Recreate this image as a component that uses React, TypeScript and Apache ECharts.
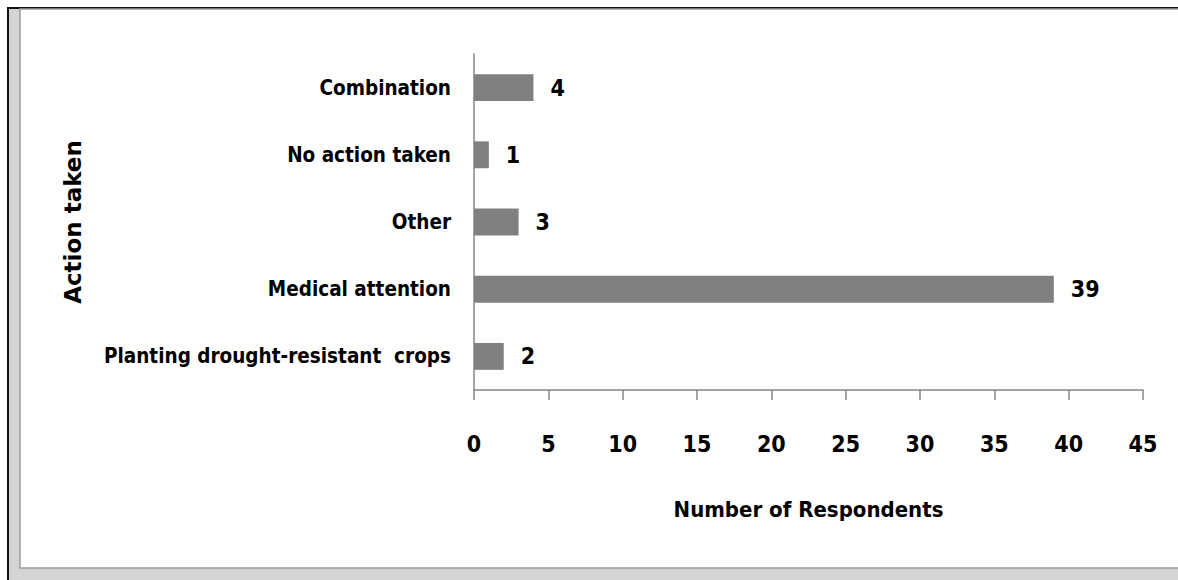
import React, { useEffect, useRef } from "react";
import * as echarts from "echarts";

const categories = [
  "Planting drought-resistant  crops",
  "Medical attention",
  "Other",
  "No action taken",
  "Combination",
];
const respondents = [2, 39, 3, 1, 4];
const xTicks = { min: 0, max: 45, interval: 5 };

const LABEL_FONT = "'Liberation Sans Narrow', 'DejaVu Sans Condensed', sans-serif";

export default function App() {
  const ref = useRef<HTMLDivElement>(null);
  useEffect(() => {
    if (!ref.current) return;
    const chart = echarts.init(ref.current, null, { renderer: "svg" });
    chart.setOption({
      animation: false,
      backgroundColor: "#ffffff",
      graphic: [
        { type: "rect", z: -10, shape: { x: 7, y: 7, width: 1180, height: 580 }, style: { fill: "#111111" } },
        { type: "rect", z: -9, shape: { x: 9, y: 9, width: 1180, height: 580 }, style: { fill: "#d4d4d4" } },
        { type: "rect", z: -8, shape: { x: 20, y: 9, width: 1170, height: 559 }, style: { fill: "#ffffff", stroke: "#9a9a9a", lineWidth: 1.5 } },
      ],
      grid: { left: 474, right: 35, top: 54, bottom: 190 },
      xAxis: {
        type: "value",
        min: xTicks.min,
        max: xTicks.max,
        interval: xTicks.interval,
        splitLine: { show: false },
        axisLine: { show: true, lineStyle: { color: "#868686", width: 1.5 } },
        axisTick: { show: true, length: 10, lineStyle: { color: "#868686", width: 1.5 } },
        axisLabel: { margin: 42, color: "#000", fontFamily: LABEL_FONT, fontWeight: "bold", fontSize: 23 },
        name: "Number of Respondents",
        nameLocation: "middle",
        nameGap: 108,
        nameTextStyle: { color: "#000", fontFamily: LABEL_FONT, fontWeight: "bold", fontSize: 22 },
      },
      yAxis: {
        type: "category",
        data: categories,
        axisLine: { show: true, lineStyle: { color: "#868686", width: 1.5 } },
        axisTick: { show: false },
        axisLabel: { margin: 23, color: "#000", fontFamily: LABEL_FONT, fontWeight: "bold", fontSize: 20.5 },
        name: "Action taken",
        nameLocation: "middle",
        nameGap: 390,
        nameTextStyle: { color: "#000", fontFamily: "'DejaVu Sans', sans-serif", fontWeight: "bold", fontSize: 23 },
      },
      series: [
        {
          type: "bar",
          data: respondents,
          barCategoryGap: "60%",
          itemStyle: { color: "#808080" },
          label: {
            show: true,
            position: "right",
            distance: 17,
            color: "#000",
            fontFamily: LABEL_FONT,
            fontWeight: "bold",
            fontSize: 23,
          },
        },
      ],
    });
    return () => chart.dispose();
  }, []);
  return <div ref={ref} style={{ position: "fixed", left: 0, top: 0, width: 1178, height: 580 }} />;
}
